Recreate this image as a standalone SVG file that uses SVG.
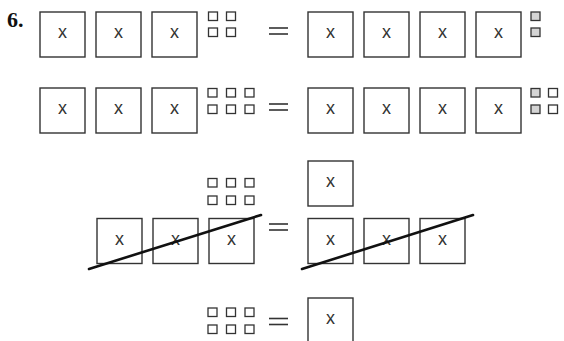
<svg xmlns="http://www.w3.org/2000/svg" width="564" height="341" viewBox="0 0 564 341">
<style>
.b{fill:#fff;stroke:#333;stroke-width:1.4}
.s{fill:#fff;stroke:#333;stroke-width:1.3}
.g{fill:#d4d4d4;stroke:#333;stroke-width:1.3}
.x{font-family:"Liberation Sans",Arial,sans-serif;font-size:18px;fill:#333;text-anchor:middle}
.eq{stroke:#333;stroke-width:1.6}
.st{stroke:#111;stroke-width:2.6;stroke-linecap:round}
.n{font-family:"Liberation Serif","Times New Roman",serif;font-weight:bold;font-size:22px;fill:#111}
</style>
<defs>
<g id="box"><rect class="b" x="0" y="0" width="45" height="45"/><text class="x" x="22.5" y="26">x</text></g>
<rect id="sq" class="s" width="9" height="8.5"/>
<rect id="gq" class="g" width="9" height="8.5"/>
</defs>
<text class="n" x="7" y="27">6.</text>
<g id="row1">
<use href="#box" x="40" y="12"/><use href="#box" x="96" y="12"/><use href="#box" x="152" y="12"/>
<use href="#sq" x="208.5" y="12"/><use href="#sq" x="226.5" y="12"/>
<use href="#sq" x="208.5" y="28"/><use href="#sq" x="226.5" y="28"/>
<line class="eq" x1="269" y1="28" x2="288" y2="28"/><line class="eq" x1="269" y1="34" x2="288" y2="34"/>
<use href="#box" x="308" y="12"/><use href="#box" x="364" y="12"/><use href="#box" x="420" y="12"/><use href="#box" x="476" y="12"/>
<use href="#gq" x="531" y="12"/><use href="#gq" x="531" y="28"/>
</g>
<g id="row2">
<use href="#box" x="40" y="88"/><use href="#box" x="96" y="88"/><use href="#box" x="152" y="88"/>
<use href="#sq" x="208" y="88.5"/><use href="#sq" x="226.5" y="88.5"/><use href="#sq" x="245" y="88.5"/>
<use href="#sq" x="208" y="105"/><use href="#sq" x="226.5" y="105"/><use href="#sq" x="245" y="105"/>
<line class="eq" x1="269" y1="104" x2="288" y2="104"/><line class="eq" x1="269" y1="110" x2="288" y2="110"/>
<use href="#box" x="308" y="88"/><use href="#box" x="364" y="88"/><use href="#box" x="420" y="88"/><use href="#box" x="476" y="88"/>
<use href="#gq" x="531" y="88.5"/><use href="#sq" x="548.5" y="88.5"/>
<use href="#gq" x="531" y="105"/><use href="#sq" x="548.5" y="105"/>
</g>
<g id="row3">
<use href="#sq" x="208" y="178.5"/><use href="#sq" x="226.5" y="178.5"/><use href="#sq" x="245" y="178.5"/>
<use href="#sq" x="208" y="196"/><use href="#sq" x="226.5" y="196"/><use href="#sq" x="245" y="196"/>
<use href="#box" x="97" y="218.5"/><use href="#box" x="153" y="218.5"/><use href="#box" x="209" y="218.5"/>
<line class="eq" x1="269" y1="224" x2="288" y2="224"/><line class="eq" x1="269" y1="230" x2="288" y2="230"/>
<use href="#box" x="308" y="161"/>
<use href="#box" x="308" y="218.5"/><use href="#box" x="364" y="218.5"/><use href="#box" x="420" y="218.5"/>
</g>
<g id="row4">
<use href="#sq" x="208" y="308"/><use href="#sq" x="226.5" y="308"/><use href="#sq" x="245" y="308"/>
<use href="#sq" x="208" y="325"/><use href="#sq" x="226.5" y="325"/><use href="#sq" x="245" y="325"/>
<line class="eq" x1="269" y1="318.5" x2="288" y2="318.5"/><line class="eq" x1="269" y1="324.5" x2="288" y2="324.5"/>
<use href="#box" x="308" y="298"/>
</g>
<g id="strikes">
<line class="st" x1="89" y1="269" x2="261" y2="215"/>
<line class="st" x1="302" y1="269" x2="473" y2="215"/>
</g>
</svg>
